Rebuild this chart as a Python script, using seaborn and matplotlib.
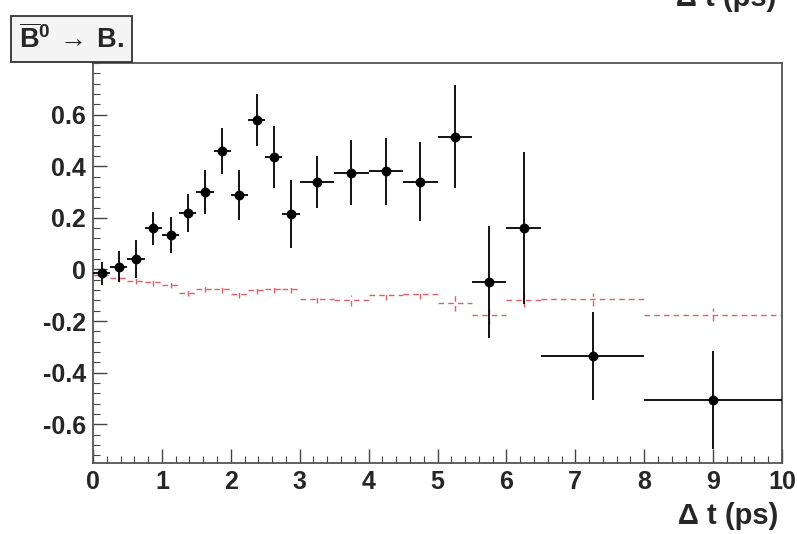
import numpy as np
import pandas as pd
import matplotlib
matplotlib.use("Agg")
import matplotlib.pyplot as plt
import seaborn as sns
from matplotlib.ticker import MultipleLocator

# ---- data ----
bin_centers = [0.125, 0.375, 0.625, 0.875, 1.125, 1.375, 1.625, 1.875, 2.125, 2.375, 2.625, 2.875,
               3.25, 3.75, 4.25, 4.75, 5.25, 5.75, 6.25, 7.25, 9.0]
bin_halfwidths = [0.125] * 12 + [0.25] * 7 + [0.75, 1.0]
data_values = [-0.015, 0.01, 0.04, 0.16, 0.135, 0.22, 0.30, 0.46, 0.29, 0.58, 0.435, 0.215,
               0.34, 0.375, 0.38, 0.34, 0.515, -0.05, 0.16, -0.335, -0.505]
data_errors = [0.045, 0.06, 0.075, 0.064, 0.07, 0.073, 0.085, 0.09, 0.097, 0.10, 0.12, 0.13,
               0.10, 0.125, 0.13, 0.153, 0.20, 0.217, 0.295, 0.17, 0.19]
mc_values = [-0.02, -0.035, -0.045, -0.05, -0.06, -0.09, -0.075, -0.075, -0.095, -0.08, -0.075, -0.075,
             -0.115, -0.12, -0.10, -0.095, -0.13, -0.175, -0.12, -0.115, -0.175]
mc_errors = [0.012, 0.012, 0.012, 0.013, 0.013, 0.014, 0.014, 0.015, 0.015, 0.015, 0.016, 0.016,
             0.015, 0.02, 0.018, 0.02, 0.03, 0.035, 0.025, 0.025, 0.025]
x_ticks = list(range(0, 11))
y_ticks = [-0.6, -0.4, -0.2, 0, 0.2, 0.4, 0.6]
y_tick_labels = ["-0.6", "-0.4", "-0.2", "0", "0.2", "0.4", "0.6"]
title_text = r"$\mathbf{\overline{B}^{0}}\,\rightarrow\,\mathbf{B.}$"
x_label = "Δ t (ps)"

df = pd.DataFrame({"t": bin_centers, "dt": bin_halfwidths,
                   "data": data_values, "derr": data_errors,
                   "mc": mc_values, "merr": mc_errors})

sns.set_style("ticks")
plt.rcParams["font.family"] = ["Liberation Sans", "DejaVu Sans"]
plt.rcParams["mathtext.fontset"] = "custom"
plt.rcParams["mathtext.bf"] = "Liberation Sans:bold"
plt.rcParams["mathtext.rm"] = "Liberation Sans"

fig = plt.figure(figsize=(7.97, 5.34), dpi=100)
ax = fig.add_axes([93 / 797, 1 - 463 / 534, (782 - 93) / 797, (463 - 63) / 534])

red = "#e06060"
# MC (red dashed) histogram-like error crosses
eb = ax.errorbar(df["t"], df["mc"], xerr=df["dt"], yerr=df["merr"], fmt="none",
                 ecolor=red, elinewidth=1.0, capsize=0, zorder=2)
for lc in eb[2]:
    lc.set_linestyle((0, (4, 3)))

# data points
ax.errorbar(df["t"], df["data"], xerr=df["dt"], yerr=df["derr"], fmt="none",
            ecolor="black", elinewidth=1.3, capsize=0, zorder=3)
sns.scatterplot(data=df, x="t", y="data", ax=ax, color="black", s=50,
                edgecolor="black", linewidth=0, zorder=4, legend=False)

ax.set_xlim(0, 10)
ax.set_ylim(-0.75, 0.80)
ax.set_xticks(x_ticks)
ax.set_xticklabels([str(v) for v in x_ticks], fontsize=18, fontweight="bold")
ax.set_yticks(y_ticks)
ax.set_yticklabels(y_tick_labels, fontsize=18, fontweight="bold")
ax.xaxis.set_minor_locator(MultipleLocator(0.2))
ax.yaxis.set_minor_locator(MultipleLocator(0.04))
ax.tick_params(axis="both", which="major", direction="in", length=10, width=1, color="#444444", pad=5)
ax.tick_params(axis="both", which="minor", direction="in", length=5, width=0.8, color="#444444")
ax.tick_params(top=False, right=False)
for s in ax.spines.values():
    s.set_color("#555555")
    s.set_linewidth(1.3)
ax.set_xlabel("")
ax.set_ylabel("")

fig.text(778 / 797, 1 - 524 / 534, x_label, ha="right", va="baseline",
         fontsize=21, fontweight="bold")
# partially cut-off label at the very top (from neighbouring panel), as in the reference
fig.text(776 / 797, 1 - 6 / 534, x_label, ha="right", va="baseline",
         fontsize=21, fontweight="bold")

fig.text(19 / 797, 1 - 48 / 534, title_text, ha="left", va="baseline", fontsize=19.5,
         bbox=dict(boxstyle="square,pad=0.3", facecolor="#f4f4f4", edgecolor="#333333", linewidth=1.3))

fig.savefig("out.png", dpi=100)
